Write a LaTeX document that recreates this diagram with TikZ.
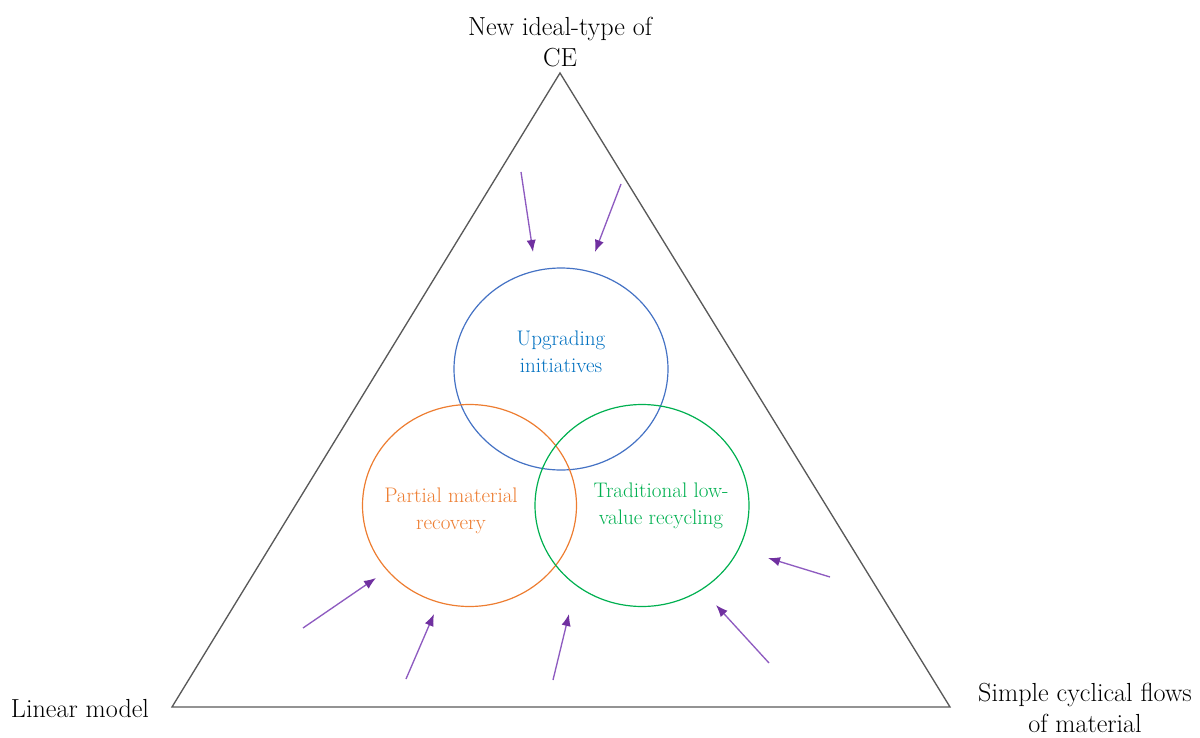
\documentclass[tikz,border=0pt]{standalone}
\usetikzlibrary{arrows.meta,shapes.geometric}
\definecolor{ceblue}{HTML}{4472C4}
\definecolor{cebluetext}{HTML}{0070C0}
\definecolor{ceorange}{HTML}{ED7D31}
\definecolor{cegreen}{HTML}{00B050}
\definecolor{cepurple}{HTML}{7030A0}
\definecolor{celine}{HTML}{8E5BC0}
\tikzset{
  ring/.style={ellipse, draw, line width=0.9pt, minimum width=160.5pt, minimum height=151.5pt},
  inlabel/.style={align=center, font=\fontsize{15.8}{20}\selectfont},
  outlabel/.style={align=center, font=\fontsize{19.6}{23}\selectfont},
  pfeil/.style={celine, line width=1pt, -{Latex[length=9pt,width=7pt,color=cepurple]}}
}
\begin{document}
\begin{tikzpicture}[x=0.75pt,y=-0.75pt]
 	\useasboundingbox (0,0) rectangle (1200,738);
 	% triangle
 	\coordinate (top) at (560,73);
 	\coordinate (left) at (172,707);
 	\coordinate (right) at (950,707);
 	\draw[black!65, line width=1pt] (top) -- (left) -- (right) -- cycle;
 	\node[outlabel] (ideal) at (560,42) {New ideal-type of\\CE};
 	\node[outlabel] (linear) at (80,709) {Linear model};
 	\node[outlabel] (cyclical) at (1085,708) {Simple cyclical flows\\of material};
 	% circles
 	\node[ring, draw=ceblue] (upg) at (561,369) {};
 	\node[ring, draw=ceorange] (part) at (469.5,505.5) {};
 	\node[ring, draw=cegreen] (trad) at (642,505.5) {};
 	\node[inlabel, text=cebluetext] (upgtext) at (561,352) {Upgrading\\initiatives};
 	\node[inlabel, text=ceorange] (parttext) at (451,511) {Partial material\\recovery};
 	\node[inlabel, text=cegreen] (tradtext) at (661,506) {Traditional low-\\value recycling};
 	% arrows
 	\foreach \xa/\ya/\xb/\yb [count=\i] in {521/172/533/252, 621/184/595/252, 303/628/376/578,
 			406/679/434/614, 553/680/569/614, 769/663/716/605, 830/577/768/558}
 			{\coordinate (s\i) at (\xa,\ya);
 			\coordinate (e\i) at (\xb,\yb);
 			\draw[pfeil] (s\i) -- (e\i);}
\end{tikzpicture}
\end{document}
